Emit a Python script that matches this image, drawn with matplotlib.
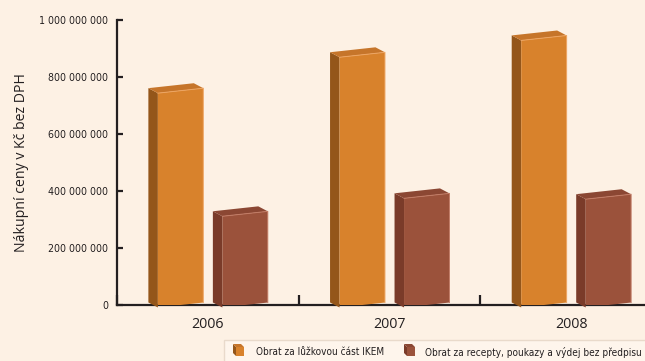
import numpy as np
import matplotlib
matplotlib.use("Agg")
import matplotlib.pyplot as plt
from matplotlib.patches import Polygon, Rectangle
from matplotlib.lines import Line2D
from matplotlib.transforms import Affine2D, IdentityTransform
from matplotlib import font_manager as fm

# ---- data ----
years = ["2006", "2007", "2008"]
series_names = ["Obrat za lůžkovou část IKEM",
                "Obrat za recepty, poukazy a výdej bez předpisu"]
bed_part = [752e6, 878e6, 937e6]
recipes = [320e6, 383e6, 380e6]
yticks = [0, 200e6, 400e6, 600e6, 800e6, 1000e6]
ytick_labels = ["0", "200 000 000", "400 000 000", "600 000 000",
                "800 000 000", "1 000 000 000"]
ylabel = "Nákupní ceny v Kč bez DPH"

# ---- style ----
BG = "#FDF1E4"
INK = "#231F20"
front_c = ["#D8822C", "#9B523B"]
side_c = ["#94561A", "#7A3B29"]
top_c = ["#C6752A", "#8B4733"]
edge_c = ["#EDA563", "#C27C66"]

names = {f.name for f in fm.fontManager.ttflist}
if "Liberation Sans Narrow" in names:
    COND = dict(family="Liberation Sans Narrow")
else:
    COND = dict(family="DejaVu Sans", stretch="condensed")
REG = "Open Sans" if "Open Sans" in names else "DejaVu Sans"

W, H = 645, 361
fig = plt.figure(figsize=(W / 100, H / 100), dpi=100, facecolor=BG)
ax = fig.add_axes([117 / W, 56 / H, 545 / W, 285 / H])
ax.set_facecolor("none")
ax.set_xlim(-0.5, 2.5)
ax.set_ylim(0, 1e9)

for s in ["top", "right"]:
    ax.spines[s].set_visible(False)
for s in ["left", "bottom"]:
    ax.spines[s].set_color(INK)
    ax.spines[s].set_linewidth(1.6)
    ax.spines[s].set_zorder(1)

ax.set_yticks(yticks)
ax.set_yticklabels(ytick_labels, fontsize=7.6, color=INK, **COND)
ax.tick_params(axis="y", direction="in", length=4, width=1.6, color=INK, pad=6.5)

ax.set_xticks(range(len(years)))
ax.set_xticklabels(years, fontsize=10.3, color=INK, family=REG)
ax.set_xticks([-0.5, 0.5, 1.5, 2.5], minor=True)
ax.tick_params(axis="x", which="major", length=0, pad=9)
ax.tick_params(axis="x", which="minor", direction="in", length=7, width=1.6, color=INK)

ax.set_ylabel(ylabel, fontsize=10.2, color=INK, family=REG)
ax.yaxis.set_label_coords(-(117 - 29) / 545, 0.5)

# ---- pseudo 3D bars ----
offsets = [-0.15, 0.205]
width = 0.25
DEPTH = np.array([-9.5, 5.0])
SHEAR = 5.0 / 46.0

for si, vals in enumerate([bed_part, recipes]):
    xs = np.arange(len(years)) + offsets[si]
    bars = ax.bar(xs, vals, width, color=front_c[si], edgecolor="none",
                  linewidth=0, zorder=4)
    for rect in bars:
        x0, y0 = rect.get_x(), rect.get_y()
        x1, y1 = x0 + rect.get_width(), y0 + rect.get_height()
        corners = ax.transData.transform([(x0, y0), (x1, y0), (x1, y1), (x0, y1)])
        xc = corners[:, 0].mean()
        sh = Affine2D().translate(-xc, 0).skew(0, np.arctan(SHEAR)).translate(xc, 0)
        rect.set_transform(ax.transData + sh)
        bl, br, tr, tl = sh.transform(corners)
        side = Polygon([bl, tl, tl + DEPTH, bl + DEPTH], closed=True,
                       facecolor=side_c[si], edgecolor="none",
                       transform=IdentityTransform(), clip_on=False, zorder=3)
        top = Polygon([tl, tr, tr + DEPTH, tl + DEPTH], closed=True,
                      facecolor=top_c[si], edgecolor="none",
                      transform=IdentityTransform(), clip_on=False, zorder=3)
        ax.add_patch(side)
        ax.add_patch(top)
        hl = np.array([tl, tr, br])
        ax.add_line(Line2D(hl[:, 0], hl[:, 1], color=edge_c[si], linewidth=0.7,
                           transform=IdentityTransform(), clip_on=False, zorder=5))

# ---- legend (manual) ----
fig.add_artist(Rectangle((224, -2), 500, 23, transform=IdentityTransform(),
                         facecolor="#FEF5EC", edgecolor="#E9DACB", linewidth=1.0))


def cube(x, y, si):
    # front face lower-left at (x, y) in pixels
    fw, fh, d = 8, 9, np.array([-3.0, 3.0])
    f = np.array([(x, y), (x + fw, y), (x + fw, y + fh), (x, y + fh)])
    fig.add_artist(Polygon([f[0], f[3], f[3] + d, f[0] + d], closed=True,
                           facecolor=side_c[si], edgecolor="none",
                           transform=IdentityTransform()))
    fig.add_artist(Polygon([f[3], f[2], f[2] + d, f[3] + d], closed=True,
                           facecolor=top_c[si], edgecolor="none",
                           transform=IdentityTransform()))
    fig.add_artist(Polygon(f, closed=True, facecolor=front_c[si], edgecolor="none",
                           transform=IdentityTransform()))


cube(236, 5, 0)
fig.text(256 / W, 9 / H, series_names[0], fontsize=7.2, color=INK,
         va="center", ha="left", **COND)
cube(407, 5, 1)
fig.text(425 / W, 9 / H, series_names[1], fontsize=7.2, color=INK,
         va="center", ha="left", **COND)

fig.savefig("out.png", dpi=100, facecolor=BG)
